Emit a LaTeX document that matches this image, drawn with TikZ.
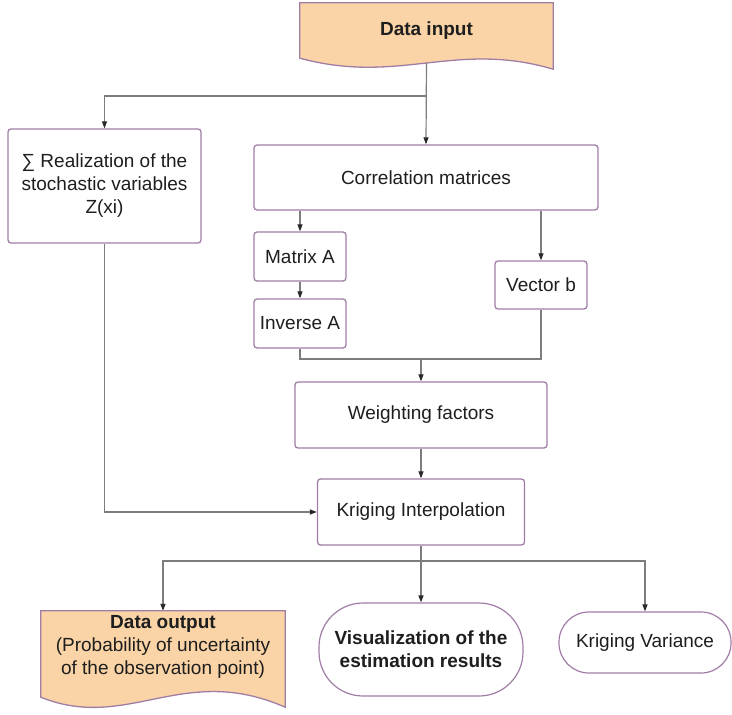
\documentclass[tikz,border=0pt]{standalone}
\usepackage{fontspec}
\setmainfont{Liberation Sans}
\usetikzlibrary{arrows.meta, positioning, calc, backgrounds}

\definecolor{bordure}{RGB}{160,125,165}
\definecolor{orangeclair}{RGB}{250,212,166}
\definecolor{trait}{RGB}{125,125,125}
\definecolor{pointe}{RGB}{40,40,40}
\definecolor{texte}{RGB}{30,30,30}

\begin{document}
\begin{tikzpicture}[
  x=1pt, y=-1pt,
  font=\fontsize{19}{23}\selectfont,
  text=texte,
  box/.style={
    draw=bordure, line width=1.3pt, rounded corners=3pt,
    fill=white, align=center, inner sep=0pt
  },
  docu/.style={align=center, inner sep=0pt},
  docshape/.style={draw=bordure, line width=1.3pt, fill=orangeclair},
  term/.style={
    draw=bordure, line width=1.2pt, fill=white,
    align=center, inner sep=0pt
  },
  fleche/.style={
    -{Triangle[length=7pt, width=5pt, color=pointe]},
    line width=1.2pt, draw=trait
  },
  ligne/.style={line width=1.2pt, draw=trait}
]
  \useasboundingbox (0,0) rectangle (732,715);

  \node[docu, minimum width=253pt, minimum height=55pt] (in) at (426.5,30.5) {\textbf{Data input}};
  \node[box, minimum width=193pt, minimum height=114pt] (real) at (104.5,186) {∑ Realization of the\\stochastic variables\\Z(xi)};
  \node[box, minimum width=344pt, minimum height=65pt] (corr) at (426,177.5) {Correlation matrices};
  \node[box, minimum width=92pt, minimum height=49pt] (matA) at (300,256.5) {Matrix A};
  \node[box, minimum width=92pt, minimum height=49pt] (invA) at (300,323.5) {Inverse A};
  \node[box, minimum width=92pt, minimum height=48pt] (vecb) at (541,285) {Vector b};
  \node[box, minimum width=252pt, minimum height=66pt] (weight) at (421,415) {Weighting factors};
  \node[box, minimum width=207pt, minimum height=66pt] (krig) at (421,512) {Kriging Interpolation};

  \node[docu, minimum width=244pt, minimum height=72pt] (out) at (163,647) {\textbf{Data output}\\(Probability of uncertainty\\of the observation point)};
  \node[term, rounded corners=44pt, minimum width=204pt, minimum height=93pt] (vis) at (421,649.5) {\textbf{Visualization of the}\\\textbf{estimation results}};
  \node[term, rounded corners=30pt, minimum width=172pt, minimum height=61pt] (var) at (645,642.5) {Kriging Variance};

  \coordinate (fork) at (426,96);
  \coordinate (join) at (421,359);
  \coordinate (fork2) at (421,561);

  \begin{scope}[on background layer]
    \draw[fleche] (in.south) -- (corr.north);
    \draw[fleche] (fork) -| (real.north);
    \draw[fleche] (matA.north |- corr.south) -- (matA.north);
    \draw[fleche] (vecb.north |- corr.south) -- (vecb.north);
    \draw[fleche] (matA) -- (invA);
    \draw[ligne] (invA.south) |- (join) -| (vecb.south);
    \draw[fleche] (join) -- (weight.north);
    \draw[fleche] (weight) -- (krig);
    \draw[fleche] (real.south) |- (krig.west);
    \draw[ligne] (krig.south) -- (fork2);
    \draw[fleche] (fork2) -| (out.north);
    \draw[fleche] (fork2) -- (vis.north);
    \draw[fleche] (fork2) -| (var.north);

    % formes document
    \filldraw[docshape] (in.north west) -- (in.north east) -- ($(in.south east)+(0,11)$)
      .. controls ($(in.south west)+(155,-18)$) and ($(in.south west)+(100,27)$) .. (in.south west) -- cycle;
    \filldraw[docshape] (out.north west) -- (out.north east) -- ($(out.south east)+(0,24)$)
      .. controls ($(out.south west)+(142,-21)$) and ($(out.south west)+(87,49)$) .. ($(out.south west)+(0,14)$) -- cycle;
  \end{scope}
\end{tikzpicture}
\end{document}
